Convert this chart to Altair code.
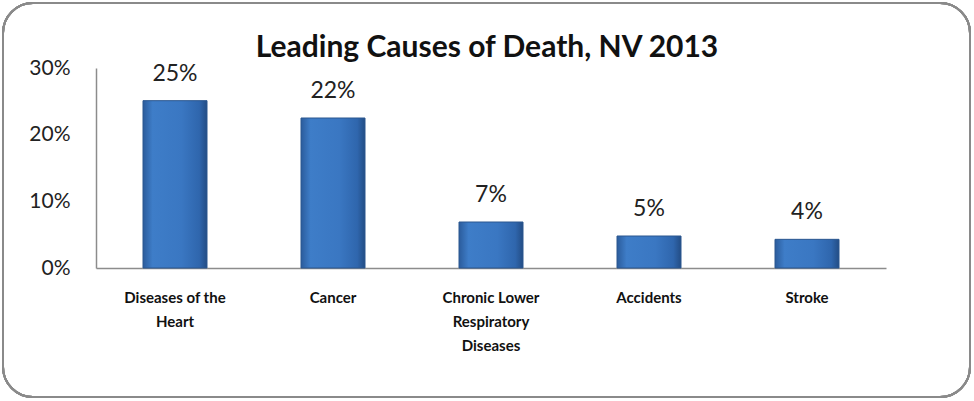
import altair as alt
import pandas as pd

categories = ["Diseases of the Heart", "Cancer", "Chronic Lower Respiratory Diseases", "Accidents", "Stroke"]
values = [0.251, 0.225, 0.069, 0.048, 0.043]
labels = ["25%", "22%", "7%", "5%", "4%"]
title_text = "Leading Causes of Death, NV 2013"

df = pd.DataFrame({"cause": categories, "share": values, "label": labels})

FONT = "Lato"

label_expr = ("datum.value == 'Diseases of the Heart' ? ['Diseases of the', 'Heart'] : "
              "datum.value == 'Chronic Lower Respiratory Diseases' ? ['Chronic Lower', 'Respiratory', 'Diseases'] : datum.label")

x = alt.X("cause:N", sort=categories, title=None,
          scale=alt.Scale(paddingInner=0, paddingOuter=0),
          axis=alt.Axis(labelAngle=0, ticks=False, domainColor="#8c8c8c", domainWidth=1.5,
                        labelFont=FONT, labelFontWeight="bold", labelFontSize=15,
                        labelColor="#111111", labelPadding=22, labelLineHeight=24,
                        labelExpr=label_expr, labelBaseline="top"))
y = alt.Y("share:Q", title=None,
          scale=alt.Scale(domain=[0, 0.3]),
          axis=alt.Axis(format="%", values=[0, 0.1, 0.2, 0.3], ticks=False, grid=False,
                        domainColor="#8c8c8c", domainWidth=1.5,
                        labelFont=FONT, labelFontSize=21, labelColor="#222222", labelPadding=26))

grad = alt.Gradient(
    gradient="linear", x1=0, y1=0, x2=1, y2=0,
    stops=[alt.GradientStop(color="#2b5c9c", offset=0),
           alt.GradientStop(color="#3e7dc8", offset=0.15),
           alt.GradientStop(color="#3a77c2", offset=0.6),
           alt.GradientStop(color="#2f66ad", offset=0.88),
           alt.GradientStop(color="#234d85", offset=1)])

bars = alt.Chart(df).mark_bar(width=64, fill=grad, stroke="#2a568f", strokeWidth=1).encode(x=x, y=y)

text = alt.Chart(df).mark_text(font=FONT, fontSize=23, color="#222222", baseline="bottom", dy=-15).encode(
    x=alt.X("cause:N", sort=categories), y="share:Q", text="label:N")

border = alt.Chart(df).mark_rect(fill=None, stroke="#8a8a8a", strokeWidth=2, cornerRadius=30).encode(
    x=alt.value(-93), x2=alt.value(874), y=alt.value(-65), y2=alt.value(329))

title = alt.Chart(pd.DataFrame({"t": [title_text]})).mark_text(
    font=FONT, fontSize=30, fontWeight="bold", color="#111111", baseline="middle", align="center"
).encode(text="t:N", x=alt.value(391), y=alt.value(-20))

chart = alt.layer(border, bars, text, title).properties(
    width=790, height=200,
    autosize=alt.AutoSizeParams(type="none"),
    padding={"left": 96, "top": 68, "right": 88, "bottom": 133},
    background="white",
).configure_view(stroke=None)

chart.save("out.html", embed_options={"renderer": "svg", "actions": False})
